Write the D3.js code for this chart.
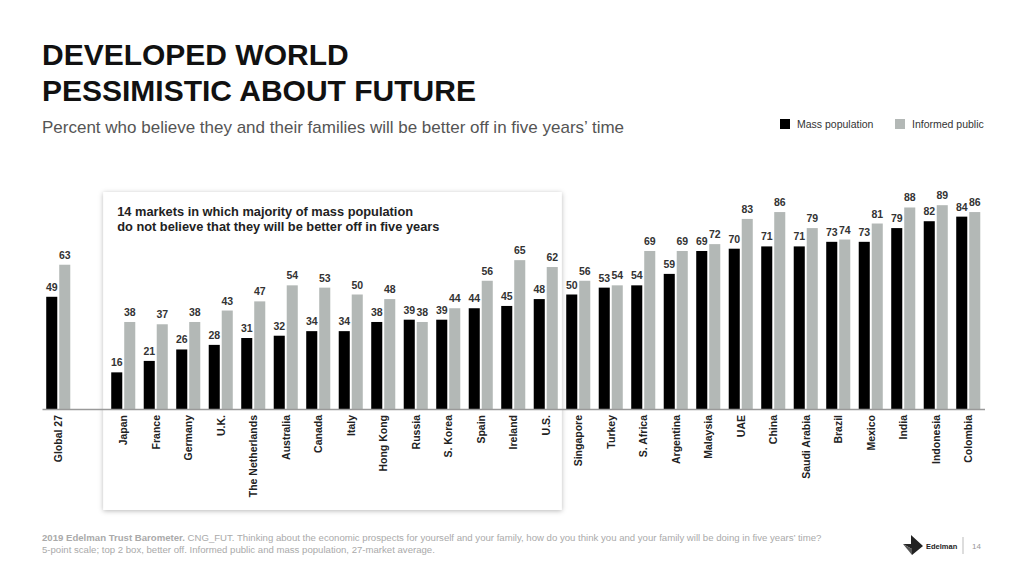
<!DOCTYPE html>
<html>
<head>
<meta charset="utf-8">
<script src="https://cdn.jsdelivr.net/npm/d3@7"></script>
<style>
  body { margin: 0; background: #fff; }
  svg { display: block; font-family: "Liberation Sans", Arial, sans-serif; }
  .title { font-size: 30px; font-weight: bold; fill: #111; }
  .subtitle { font-size: 17px; fill: #555; }
  .legend-label { font-size: 10.5px; fill: #333; }
  .value-label { font-size: 10.5px; font-weight: bold; fill: #333; }
  .country-label { font-size: 10.5px; font-weight: bold; fill: #222; }
  .box-text { font-size: 12.8px; font-weight: bold; fill: #222; }
  .footer { font-size: 9.6px; fill: #aaa; }
</style>
</head>
<body>
<div id="chart"></div>
<script>
// Data
var countries = ["Global 27", "Japan", "France", "Germany", "U.K.", "The Netherlands", "Australia",
    "Canada", "Italy", "Hong Kong", "Russia", "S. Korea", "Spain", "Ireland", "U.S.",
    "Singapore", "Turkey", "S. Africa", "Argentina", "Malaysia", "UAE", "China",
    "Saudi Arabia", "Brazil", "Mexico", "India", "Indonesia", "Colombia"];
var massPopulation = [49, 16, 21, 26, 28, 31, 32, 34, 34, 38, 39, 39, 44, 45, 48,
    50, 53, 54, 59, 69, 70, 71, 71, 73, 73, 79, 82, 84];
var informedPublic = [63, 38, 37, 38, 43, 47, 54, 53, 50, 48, 38, 44, 56, 65, 62,
    56, 54, 69, 69, 72, 83, 86, 79, 74, 81, 88, 89, 86];
var seriesNames = ["Mass population", "Informed public"];
var highlighted = ["Japan", "U.S."]; // first and last market inside the box

var width = 1024, height = 576;
var colors = {"Mass population": "#000000", "Informed public": "#b3b8b6"};

var svg = d3.select("#chart").append("svg")
    .attr("width", width)
    .attr("height", height);

// Drop shadow for the highlight box
var defs = svg.append("defs");
var filter = defs.append("filter").attr("id", "shadow")
    .attr("x", "-5%").attr("y", "-5%").attr("width", "110%").attr("height", "110%");
filter.append("feDropShadow")
    .attr("dx", 0).attr("dy", 1)
    .attr("stdDeviation", 2.5)
    .attr("flood-color", "#000")
    .attr("flood-opacity", 0.28);

// Rows built from the arrays
var data = countries.map(function(c, i) {
    return {country: c, values: [
        {series: seriesNames[0], value: massPopulation[i]},
        {series: seriesNames[1], value: informedPublic[i]}
    ]};
});

// an empty slot separates the global average from the markets
var domain = [countries[0], "__gap"].concat(countries.slice(1));

var x0 = d3.scaleBand()
    .domain(domain)
    .range([42, 984.5])
    .paddingInner(0.26)
    .paddingOuter(0.13);

var x1 = d3.scaleBand()
    .domain(seriesNames)
    .range([0, x0.bandwidth()])
    .paddingInner(0.15);

var y = d3.scaleLinear()
    .domain([0, 100])
    .range([409, 180]);

// Titles
svg.append("text").attr("class", "title").attr("x", 42).attr("y", 65).text("DEVELOPED WORLD");
svg.append("text").attr("class", "title").attr("x", 42).attr("y", 101).text("PESSIMISTIC ABOUT FUTURE");
svg.append("text").attr("class", "subtitle").attr("x", 42).attr("y", 133)
    .text("Percent who believe they and their families will be better off in five years\u2019 time");

// Legend
var legend = svg.selectAll(".legend")
    .data(seriesNames)
    .enter().append("g")
    .attr("class", "legend")
    .attr("transform", function(d, i) { return "translate(" + [780, 895][i] + ",119)"; });
legend.append("rect")
    .attr("width", 10).attr("height", 10)
    .attr("fill", function(d) { return colors[d]; });
legend.append("text")
    .attr("class", "legend-label")
    .attr("x", 17).attr("y", 9)
    .text(function(d) { return d; });

// Highlight box
var boxLeft = x0(highlighted[0]) - 8;
var boxRight = x0(highlighted[1]) + x0.bandwidth() + 4;
svg.append("rect")
    .attr("x", boxLeft).attr("y", 192)
    .attr("width", boxRight - boxLeft).attr("height", 318)
    .attr("fill", "#fff")
    .attr("filter", "url(#shadow)");
svg.append("text").attr("class", "box-text").attr("x", boxLeft + 14).attr("y", 216)
    .text("14 markets in which majority of mass population");
svg.append("text").attr("class", "box-text").attr("x", boxLeft + 14).attr("y", 231)
    .text("do not believe that they will be better off in five years");

// Bars
var groups = svg.selectAll(".group")
    .data(data)
    .enter().append("g")
    .attr("class", "group")
    .attr("transform", function(d) { return "translate(" + x0(d.country) + ",0)"; });

groups.selectAll("rect")
    .data(function(d) { return d.values; })
    .enter().append("rect")
    .attr("x", function(d) { return x1(d.series); })
    .attr("y", function(d) { return y(d.value); })
    .attr("width", x1.bandwidth())
    .attr("height", function(d) { return y(0) - y(d.value); })
    .attr("fill", function(d) { return colors[d.series]; });

groups.selectAll(".value-label")
    .data(function(d) { return d.values; })
    .enter().append("text")
    .attr("class", "value-label")
    .attr("text-anchor", "middle")
    .attr("x", function(d) { return x1(d.series) + x1.bandwidth() / 2; })
    .attr("y", function(d) { return y(d.value) - 6; })
    .text(function(d) { return d.value; });

// Baseline
var xAxis = d3.axisBottom(x0).tickSize(0).tickFormat("");
var axisG = svg.append("g")
    .attr("transform", "translate(0," + y(0) + ")")
    .call(xAxis);
axisG.select(".domain").attr("stroke", "#9a9a9a").attr("stroke-width", 1.5);

// Country labels
groups.append("text")
    .attr("class", "country-label")
    .attr("text-anchor", "end")
    .attr("transform", function(d) {
        return "translate(" + (x0.bandwidth() / 2 + 4) + "," + (y(0) + 6) + ") rotate(-90)";
    })
    .text(function(d) { return d.country; });

// Footer
var foot = svg.append("text").attr("class", "footer").attr("x", 42).attr("y", 541);
foot.append("tspan").attr("font-weight", "bold").text("2019 Edelman Trust Barometer.");
foot.append("tspan").text(" CNG_FUT. Thinking about the economic prospects for yourself and your family, how do you think you and your family will be doing in five years\u2019 time?");
svg.append("text").attr("class", "footer").attr("x", 42).attr("y", 553)
    .text("5-point scale; top 2 box, better off. Informed public and mass population, 27-market average.");

// Edelman mark
var logo = svg.append("g").attr("transform", "translate(903,535)");
logo.append("path").attr("d", "M0,9 L8,9 L8,0 L20,11 L9,20 L9,14 Z").attr("fill", "#222");
logo.append("path").attr("d", "M0,9 L9,14 L9,20 Z").attr("fill", "#555");
svg.append("text").attr("x", 926).attr("y", 549)
    .attr("font-size", 7.5).attr("font-weight", "bold").attr("fill", "#222").text("Edelman");
svg.append("line").attr("x1", 963).attr("x2", 963).attr("y1", 537).attr("y2", 554)
    .attr("stroke", "#bbb");
svg.append("text").attr("x", 972).attr("y", 549)
    .attr("font-size", 8).attr("fill", "#999").text("14");
</script>
</body>
</html>
